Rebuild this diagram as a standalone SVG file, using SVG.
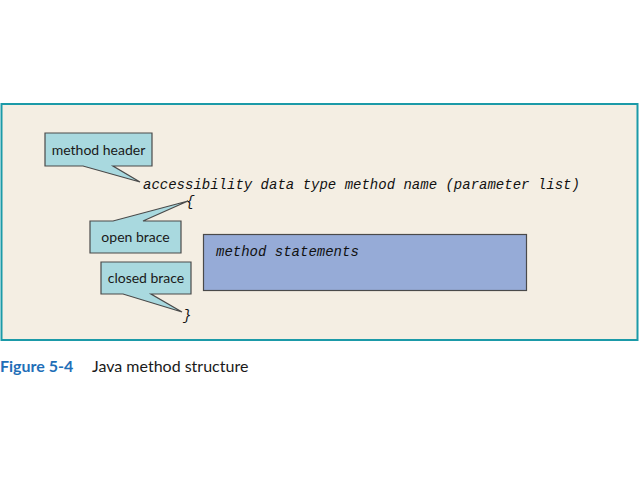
<svg xmlns="http://www.w3.org/2000/svg" width="640" height="480" viewBox="0 0 640 480">
<style>
.call{fill:#a9d9df;stroke:#4a4a4a;stroke-width:1.2}
.lbl{font-family:Lato,"Open Sans",sans-serif;font-size:14px;fill:#1a1a1a;text-anchor:middle}
.code{font-family:"Liberation Mono","Courier New",monospace;font-style:italic;font-size:14px;fill:#111}
</style>
<rect x="0" y="0" width="640" height="480" fill="#ffffff"/>
<rect x="1.5" y="104" width="636" height="236" fill="#f4eee3" stroke="#1b9aa8" stroke-width="2"/>
<g id="connectors">
</g>
<g id="method-header">
<path class="call" d="M45,133 H152 V166 H113 L140,182 L83,166 H45 Z"/>
<text class="lbl" x="98.5" y="155">method header</text>
</g>
<g id="header-line">
<text class="code" x="143" y="189">accessibility data type method name (parameter list)</text>
</g>
<g id="open-brace-char">
<text class="code" x="186" y="206">{</text>
</g>
<g id="open-brace">
<path class="call" d="M90,221 H113 L188,201 L143,221 H181 V253 H90 Z"/>
<text class="lbl" x="135.5" y="242">open brace</text>
</g>
<g id="method-statements">
<rect x="203.5" y="234.5" width="323" height="56" fill="#96abd7" stroke="#4a4a4a" stroke-width="1.2"/>
<text class="code" x="216" y="256">method statements</text>
</g>
<g id="closed-brace">
<path class="call" d="M101,262 H191 V294 H151 L182,312 L123,294 H101 Z"/>
<text class="lbl" x="146" y="283">closed brace</text>
</g>
<g id="close-brace-char">
<text class="code" x="183" y="320">}</text>
</g>
<g id="caption">
<text x="0" y="372" font-family="Lato,'Open Sans',sans-serif" font-size="16" font-weight="bold" fill="#1f6fb8">Figure 5-4</text>
<text x="92" y="372" font-family="Lato,'Open Sans',sans-serif" font-size="16" fill="#1a1a1a">Java method structure</text>
</g>
</svg>
